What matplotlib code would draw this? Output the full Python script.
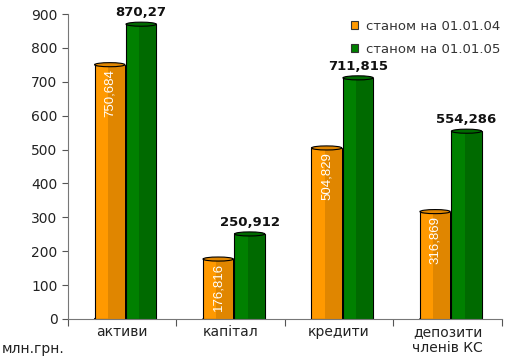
import numpy as np
import matplotlib
matplotlib.use('Agg')
import matplotlib.pyplot as plt
from matplotlib.patches import Ellipse, Patch

plt.rcParams['font.family'] = ['DejaVu Sans']

# дані
categories = ['активи', 'капітал', 'кредити', 'депозити\nчленів КС']
vals_04 = [750.684, 176.816, 504.829, 316.869]
vals_05 = [870.27, 250.912, 711.815, 554.286]
labels_04 = ['750,684', '176,816', '504,829', '316,869']
labels_05 = ['870,27', '250,912', '711,815', '554,286']
series_names = ['станом на 01.01.04', 'станом на 01.01.05']

orange, orange_dk = '#FF9900', '#E08600'
green, green_dk = '#008000', '#006A00'

fig = plt.figure(figsize=(5.11, 3.62), dpi=100)
ax = fig.add_axes([0.133, 0.119, 0.849, 0.842])

x = np.arange(len(categories)) + 0.03
w = 0.28
off = 0.145


def cylinder(xc, h, col, col_dk):
    ax.bar(xc, h, w, color=col, edgecolor='black', linewidth=0.8, zorder=2)
    # тінь справа, щоб бар виглядав як циліндр
    ax.bar(xc + w * 0.22, h, w * 0.56, color=col_dk, linewidth=0, zorder=2.5)
    ax.add_patch(Ellipse((xc, h), w, 12, facecolor=col_dk, edgecolor='black',
                         linewidth=0.8, zorder=3))
    ax.add_patch(Ellipse((xc, 0), w, 12, facecolor=col_dk, edgecolor='black',
                         linewidth=0.8, zorder=1.5))


for i in range(len(categories)):
    cylinder(x[i] - off, vals_04[i], orange, orange_dk)
    cylinder(x[i] + off, vals_05[i], green, green_dk)
    ax.text(x[i] - off, vals_04[i] - 12, labels_04[i], rotation=90, ha='center', va='top',
            color='white', fontsize=9.5, family=['Liberation Sans Narrow', 'Liberation Sans'],
            zorder=4)
    ax.text(x[i] + off, vals_05[i] + 14, labels_05[i], ha='center', va='bottom',
            fontsize=9.5, fontweight='bold', color='#111111', zorder=4)

ax.set_xlim(-0.5, 3.5)
ax.set_ylim(0, 900)
ax.set_yticks(range(0, 901, 100))
ax.set_xticks(np.arange(-0.5, 3.6, 1))
ax.set_xticklabels([])
ax.tick_params(axis='x', length=5, color='#555555')
ax.tick_params(axis='y', length=4, color='#555555', labelsize=10, labelcolor='#222222')
for c, name in zip(np.arange(len(categories)), categories):
    ax.text(c, -18, name, ha='center', va='top', fontsize=10, linespacing=1.2,
            color='#222222')

for s in ['top', 'right']:
    ax.spines[s].set_visible(False)
ax.spines['left'].set_color('#777777')
ax.spines['bottom'].set_color('#777777')

fig.text(0.004, 0.025, 'млн.грн.', fontsize=10, color='#222222')

hs = [Patch(facecolor=orange, edgecolor='#333333', linewidth=0.8),
      Patch(facecolor=green, edgecolor='#333333', linewidth=0.8)]
leg = ax.legend(hs, series_names, loc='upper right', bbox_to_anchor=(1.025, 1.02),
                frameon=False, fontsize=9.5, handlelength=0.6, handleheight=0.6,
                handletextpad=0.6, labelspacing=0.75)
for t in leg.get_texts():
    t.set_color('#333333')

fig.savefig('out.png', dpi=100)
